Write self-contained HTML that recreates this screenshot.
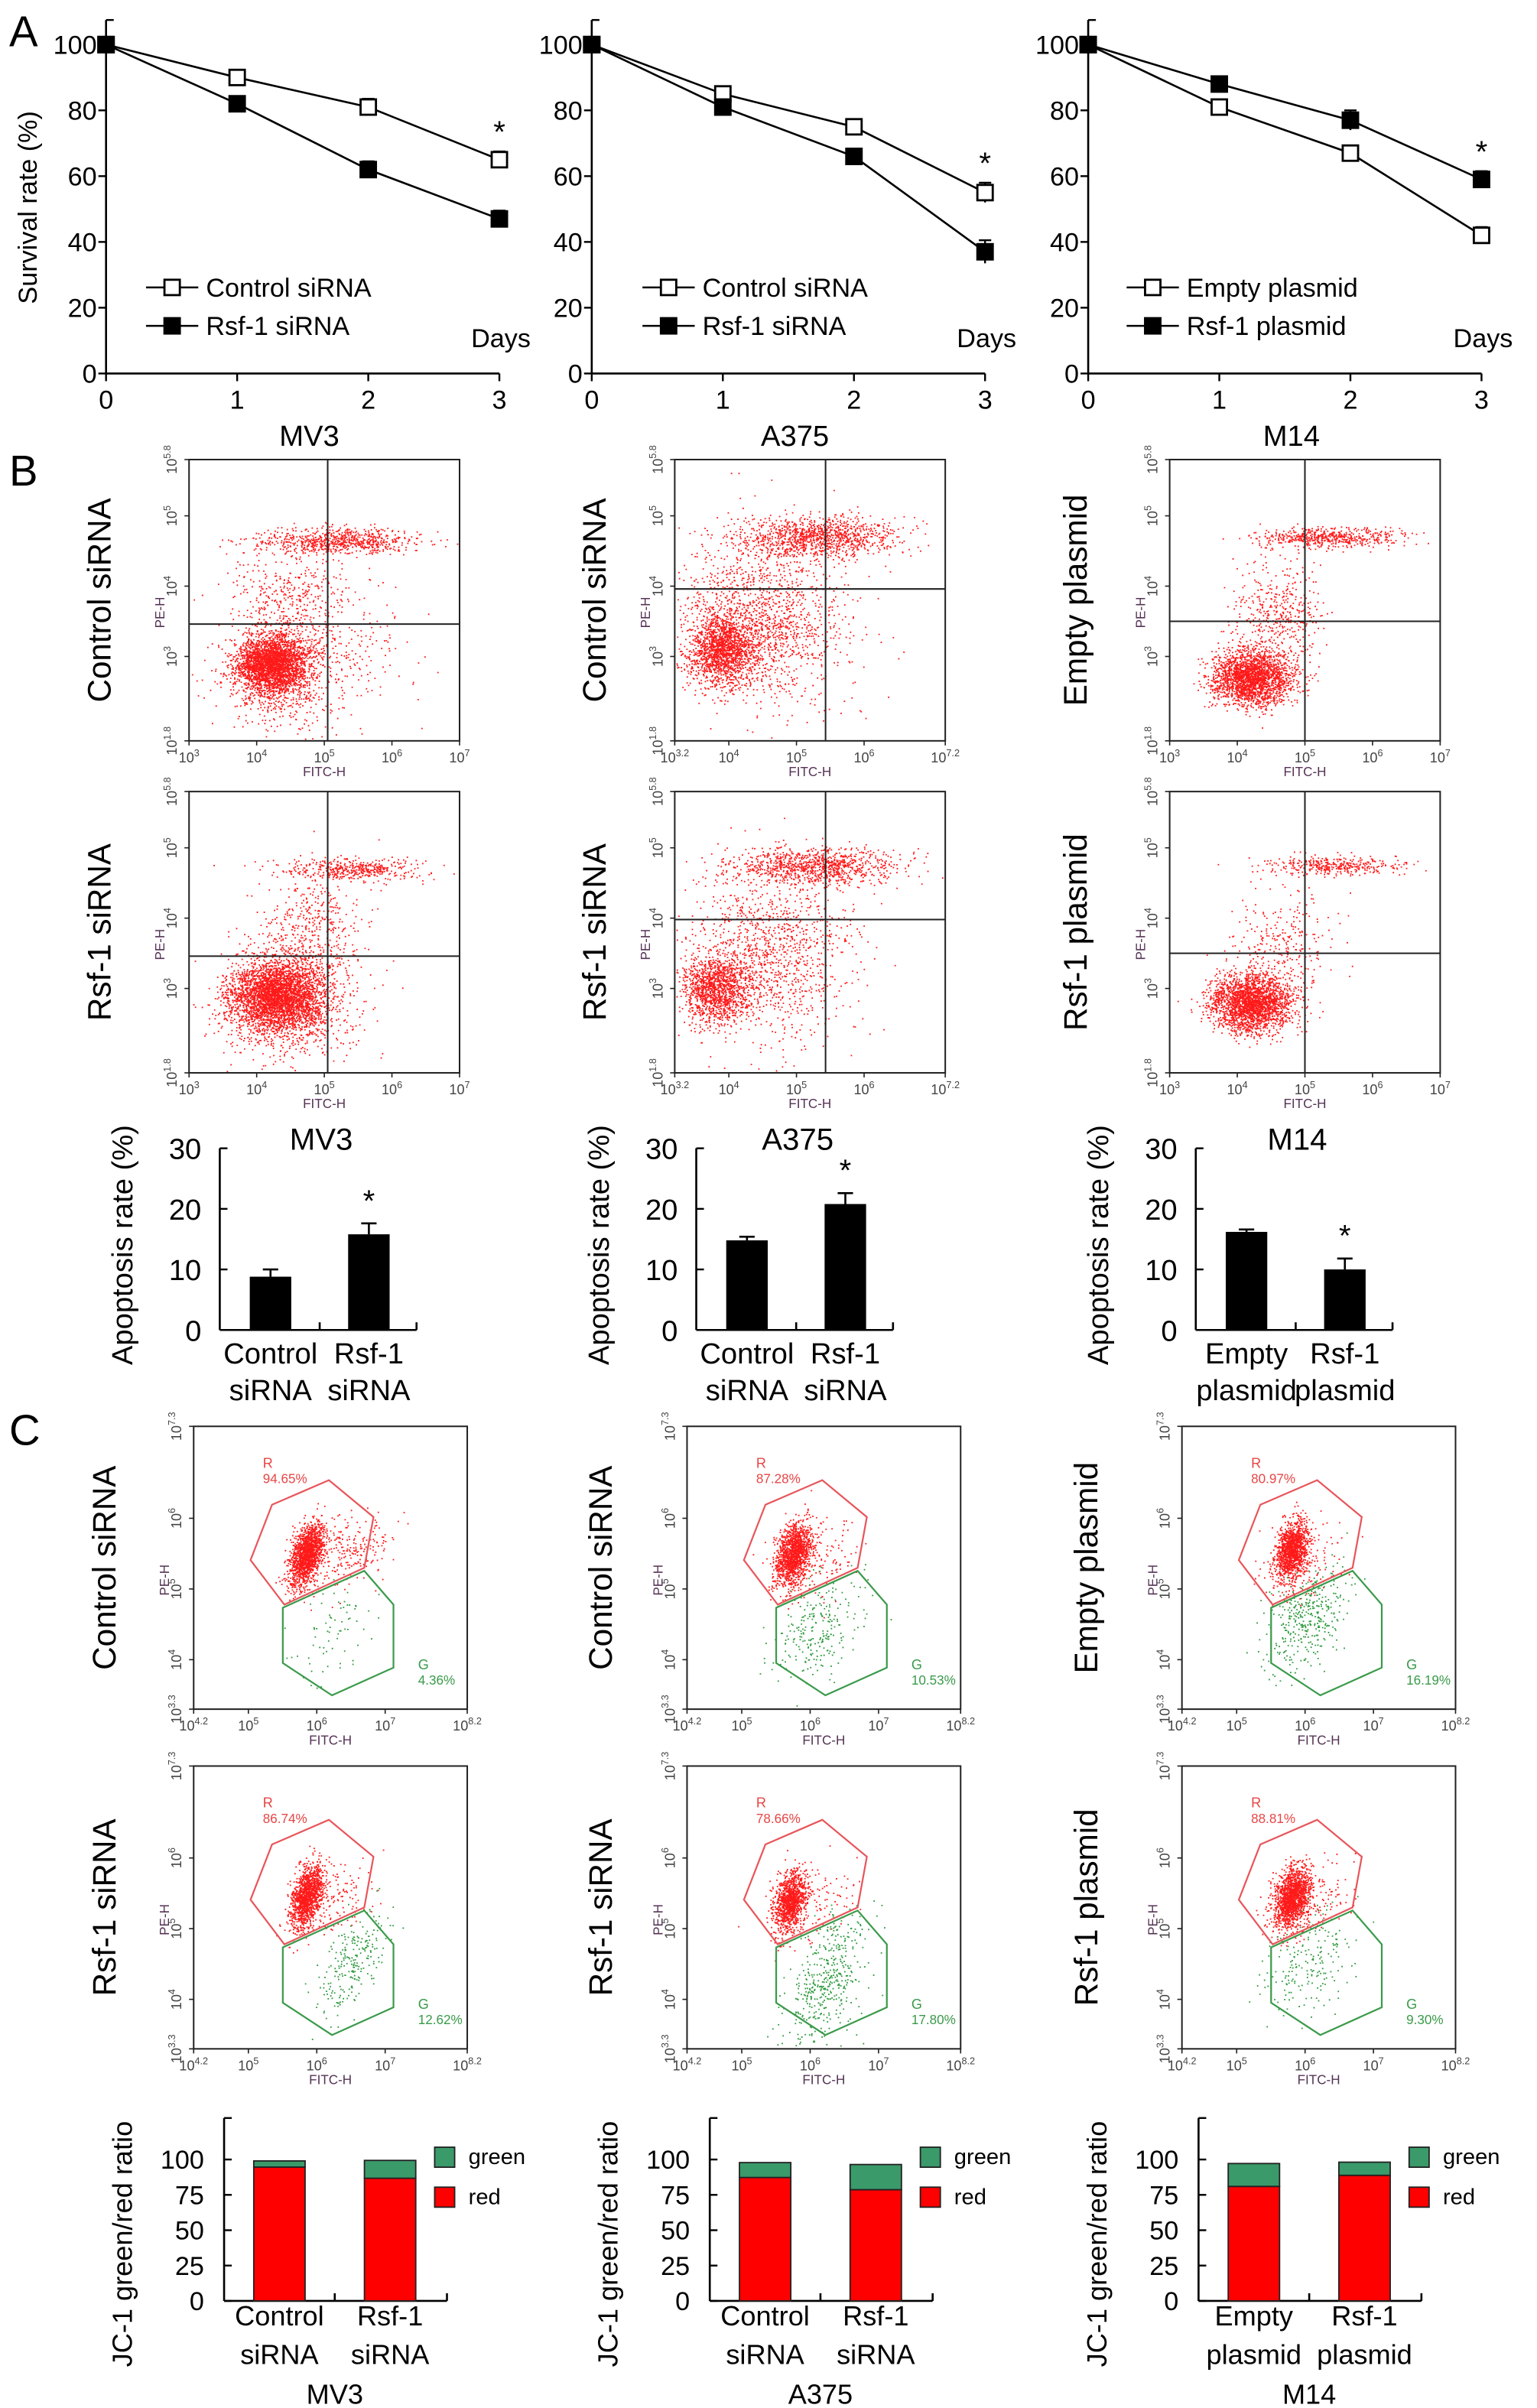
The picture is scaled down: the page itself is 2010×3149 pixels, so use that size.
<!DOCTYPE html>
<html><head><meta charset="utf-8"><title>Rsf-1 figure</title>
<style>
html,body{margin:0;padding:0;background:#fff;}
svg{display:block;font-family:"Liberation Sans",Arial,sans-serif;}
</style></head>
<body>
<svg id="fig" xmlns="http://www.w3.org/2000/svg" width="2010" height="3149" viewBox="0 0 1000 1566.67" preserveAspectRatio="none">
<rect x="0" y="0" width="1000" height="1567" fill="#fff"/>
<text x="6" y="30" font-size="28">A</text>
<text x="6" y="316" font-size="28">B</text>
<text x="6" y="940" font-size="28">C</text>
</svg>
<script>
// ---------------- DATA ----------------
const days=[0,1,2,3];
const survTicks=[0,20,40,60,80,100];
const mv3Ctrl=[100,90,81,65];   const mv3CtrlErr=[0,1.5,2.5,2.5];
const mv3Rsf=[100,82,62,47];    const mv3RsfErr=[0,1,2.5,2.5];
const a375Ctrl=[100,85,75,55];  const a375CtrlErr=[0,1,1.5,3];
const a375Rsf=[100,81,66,37];   const a375RsfErr=[0,1.5,2,3.5];
const m14Empty=[100,81,67,42];  const m14EmptyErr=[0,1,1,2.5];
const m14Rsf=[100,88,77,59];    const m14RsfErr=[0,1,3,2.5];

const apopTicks=[0,10,20,30];
const mv3Apop=[8.8,15.8];   const mv3ApopErr=[1.2,1.8];
const a375Apop=[14.8,20.8]; const a375ApopErr=[0.6,1.8];
const m14Apop=[16.2,10.0];  const m14ApopErr=[0.4,1.8];

const jcTicks=[0,25,50,75,100];
const mv3Red=[94.65,86.74];  const mv3Green=[4.36,12.62];
const a375Red=[87.28,78.66]; const a375Green=[10.53,17.80];
const m14Red=[80.97,88.81];  const m14Green=[16.19,9.30];

// flow cytometry clusters (log10 units): [cx, cy, sx, sy, n, corr]
const bMv3Ctrl=[[4.2,2.9,0.25,0.2,2600,0],[4.4,2.8,0.45,0.4,900,0],[5.2,4.65,0.6,0.09,750,0],[4.5,3.9,0.4,0.35,350,0],[5.5,3.2,0.5,0.5,150,0]];
const bMv3Rsf=[[4.3,2.9,0.33,0.25,3200,0],[4.5,2.8,0.5,0.4,900,0],[5.4,4.7,0.5,0.08,450,0],[4.8,3.8,0.4,0.4,450,0]];
const bA375Ctrl=[[3.9,3.1,0.25,0.25,1600,0],[4.5,3.5,0.6,0.6,1500,0],[5.3,4.7,0.6,0.15,1100,0]];
const bA375Rsf=[[3.8,3.0,0.25,0.25,1300,0],[4.6,3.5,0.6,0.6,1200,0],[5.3,4.75,0.6,0.13,1000,0]];
const bM14Empty=[[4.2,2.7,0.3,0.2,2200,0],[5.4,4.7,0.5,0.07,550,0],[4.6,3.6,0.35,0.4,450,0]];
const bM14Rsf=[[4.2,2.8,0.3,0.2,2400,0],[5.4,4.75,0.5,0.07,380,0],[4.7,3.6,0.35,0.4,280,0]];
const cMv3Ctrl=[[5.85,5.5,0.12,0.2,1500,0.8],[6.4,5.5,0.35,0.25,250,0.3]];
const cMv3Rsf=[[5.85,5.45,0.12,0.2,1300,0.8],[6.2,5.4,0.3,0.25,150,0.3]];
const cA375Ctrl=[[5.75,5.5,0.13,0.2,1400,0.6],[6.1,5.4,0.3,0.25,150,0.3]];
const cA375Rsf=[[5.7,5.4,0.12,0.2,1100,0.6],[6.0,5.3,0.3,0.25,120,0.3]];
const cM14Empty=[[5.8,5.55,0.12,0.2,1300,0.5],[6.0,5.4,0.3,0.25,120,0.3]];
const cM14Rsf=[[5.8,5.45,0.13,0.2,1500,0.5],[6.1,5.4,0.3,0.25,150,0.3]];
const gMv3Ctrl=[[6.3,4.45,0.3,0.3,70,0.6]];
const gMv3Rsf=[[6.5,4.5,0.25,0.3,240,0.9]];
const gA375Ctrl=[[6.1,4.4,0.35,0.35,250,0.5]];
const gA375Rsf=[[6.25,4.3,0.3,0.4,450,0.7]];
const gM14Empty=[[6.0,4.6,0.3,0.35,380,0.5]];
const gM14Rsf=[[6.0,4.5,0.35,0.35,200,0.5]];

// ---------------- HELPERS ----------------
const NS='http://www.w3.org/2000/svg';
const svg=document.getElementById('fig');
function mk(tag,attrs,parent){const e=document.createElementNS(NS,tag);for(const k in attrs)e.setAttribute(k,attrs[k]);(parent||svg).appendChild(e);return e;}
function txt(s,attrs,parent){const e=mk('text',attrs,parent);e.textContent=s;return e;}
function nm(e,n){
  
  
}
function powText(exp,x,y,size,color,rot,parent){
  const t=mk('text',{x:x,y:y,'font-size':size,fill:color,'text-anchor':'middle'},parent);
  if(rot)t.setAttribute('transform','rotate(-90 '+x+' '+y+')');
  t.appendChild(document.createTextNode('10'));
  const s=mk('tspan',{dy:-size*0.45,'font-size':size*0.7},t);s.textContent=String(exp);
  nm(t,'tick-label');return t;
}
function rng(seed){return function(){seed|=0;seed=seed+0x6D2B79F5|0;let t=Math.imul(seed^seed>>>15,1|seed);t=t+Math.imul(t^t>>>7,61|t)^t;return((t^t>>>14)>>>0)/4294967296;};}
function gauss(r){let u=r()||1e-9,v=r();return Math.sqrt(-2*Math.log(u))*Math.cos(2*Math.PI*v);}

// ---------------- PANEL A ----------------
function lineChart(ox,lx,ctrl,ctrlErr,rsf,rsfErr,labels,cell,showTitle){
  const g=mk('g',{});nm(g,'survival-chart-'+cell.toLowerCase());
  const X=d=>69+ox+d*85.3, Y=v=>243-v*2.14;
  const ax=mk('line',{x1:X(0),y1:13,x2:X(0),y2:243,stroke:'#000','stroke-width':1.3},g);nm(ax,'y-axis');
  const bx=mk('line',{x1:X(0),y1:243,x2:X(3),y2:243,stroke:'#000','stroke-width':1.3},g);nm(bx,'x-axis');
  survTicks.forEach(v=>{mk('line',{x1:X(0)-5,y1:Y(v),x2:X(0),y2:Y(v),stroke:'#000','stroke-width':1.2},g);
    const t=txt(String(v),{x:X(0)-6,y:Y(v)+6,'font-size':17,'text-anchor':'end'},g);nm(t,'y-tick-label');});
  mk('line',{x1:X(0),y1:13,x2:X(0)+5,y2:13,stroke:'#000','stroke-width':1.2},g);
  days.forEach(d=>{mk('line',{x1:X(d),y1:243,x2:X(d),y2:248,stroke:'#000','stroke-width':1.2},g);
    const t=txt(String(d),{x:X(d),y:266,'font-size':17,'text-anchor':'middle'},g);nm(t,'x-tick-label');});
  if(showTitle){const yt=txt('Survival rate (%)',{x:0,y:0,'font-size':17,'text-anchor':'middle',transform:'translate('+(ox+24)+' 135) rotate(-90)'},g);nm(yt,'y-axis-title');}
  const dl=txt('Days',{x:X(3)+1,y:226,'font-size':17,'text-anchor':'middle'},g);nm(dl,'x-axis-title');
  const cl=txt(cell,{x:X(1.55),y:290,'font-size':19,'text-anchor':'middle'},g);nm(cl,'cell-line-label');
  [[ctrl,ctrlErr,'#fff','control'],[rsf,rsfErr,'#000','rsf1']].forEach(s=>{
    const p=mk('polyline',{points:days.map(d=>X(d)+','+Y(s[0][d])).join(' '),fill:'none',stroke:'#000','stroke-width':1.3},g);
    
    
    days.forEach(d=>{const e=s[1][d];if(e>0){mk('line',{x1:X(d),y1:Y(s[0][d]+e),x2:X(d),y2:Y(s[0][d]-e),stroke:'#000','stroke-width':1.2},g);
      mk('line',{x1:X(d)-4,y1:Y(s[0][d]+e),x2:X(d)+4,y2:Y(s[0][d]+e),stroke:'#000','stroke-width':1.2},g);}
      const m=mk('rect',{x:X(d)-5,y:Y(s[0][d])-5,width:10,height:10,fill:s[2],stroke:'#000','stroke-width':1.4},g);
      
      });
  });
  const top=Math.max(ctrl[3]+ctrlErr[3],rsf[3]+rsfErr[3]);
  const st=txt('*',{x:X(3),y:Y(top)-6,'font-size':20,'text-anchor':'middle'},g);nm(st,'significance-star');
  [[labels[0],'#fff',187],[labels[1],'#000',212]].forEach((L,i)=>{
    const lg=mk('g',{},g);nm(lg,'legend-entry');
    mk('line',{x1:lx,y1:L[2],x2:lx+34,y2:L[2],stroke:'#000','stroke-width':1.3},lg);
    mk('rect',{x:lx+12,y:L[2]-5,width:10,height:10,fill:L[1],stroke:'#000','stroke-width':1.4},lg);
    txt(L[0],{x:lx+39,y:L[2]+6,'font-size':17},lg);});
}
lineChart(0,95,mv3Ctrl,mv3CtrlErr,mv3Rsf,mv3RsfErr,['Control siRNA','Rsf-1 siRNA'],'MV3',true);
lineChart(316,418,a375Ctrl,a375CtrlErr,a375Rsf,a375RsfErr,['Control siRNA','Rsf-1 siRNA'],'A375',false);
lineChart(639,733,m14Empty,m14EmptyErr,m14Rsf,m14RsfErr,['Empty plasmid','Rsf-1 plasmid'],'M14',false);

// ---------------- FLOW PLOTS ----------------
function flowPlot(o){
  const g=mk('g',{});nm(g,o.name);
  const {x0,x1,y0,y1,xmin,xmax,ymin,ymax}=o;
  const X=v=>x0+(v-xmin)/(xmax-xmin)*(x1-x0), Y=v=>y1-(v-ymin)/(ymax-ymin)*(y1-y0);
  const r=rng(o.seed);
  o.sets.forEach(set=>{
    let d='';
    set.clusters.forEach(c=>{for(let i=0;i<c[4];i++){const dx=c[2]*gauss(r);const lx=c[0]+dx,ly=c[1]+c[3]*gauss(r)+c[5]*dx;
      const px=X(lx),py=Y(ly);if(px>x0+1&&px<x1-1&&py>y0+1&&py<y1-1)d+='M'+px.toFixed(1)+' '+py.toFixed(1)+'h0.9v0.9h-0.9z';}});
    const p=mk('path',{d:d,fill:set.color},g);
    
    
  });
  const fr=mk('rect',{x:x0,y:y0,width:x1-x0,height:y1-y0,fill:'none',stroke:'#222','stroke-width':1},g);nm(fr,'plot-frame');
  if(o.qx!==undefined){
    const a=mk('line',{x1:X(o.qx),y1:y0,x2:X(o.qx),y2:y1,stroke:'#222','stroke-width':1},g);nm(a,'quadrant-line-vertical');
    const b=mk('line',{x1:x0,y1:Y(o.qy),x2:x1,y2:Y(o.qy),stroke:'#222','stroke-width':1},g);nm(b,'quadrant-line-horizontal');
  }
  o.xt.forEach(e=>{mk('line',{x1:X(e),y1:y1,x2:X(e),y2:y1+3,stroke:'#222','stroke-width':0.8},g);powText(e,X(e),y1+14,9,'#444',false,g);});
  o.yt.forEach(e=>{mk('line',{x1:x0-3,y1:Y(e),x2:x0,y2:Y(e),stroke:'#222','stroke-width':0.8},g);powText(e,x0-8,Y(e),9,'#444',true,g);});
  const xl=txt('FITC-H',{x:(x0+x1)/2,y:y1+23,'font-size':8.5,fill:'#553355','text-anchor':'middle'},g);nm(xl,'x-axis-title');
  const yl=txt('PE-H',{x:0,y:0,'font-size':8.5,fill:'#553355','text-anchor':'middle',transform:'translate('+(x0-16)+' '+((y0+y1)/2+8)+') rotate(-90)'},g);nm(yl,'y-axis-title');
  const rl=txt(o.row,{x:0,y:0,'font-size':21,'text-anchor':'middle',transform:'translate('+(o.rx)+' '+((y0+y1)/2)+') rotate(-90)'},g);nm(rl,'row-label');
  if(o.gates){
    const R=[[51,51],[88,35],[117,59],[111,92],[59,116],[37,87]], G=[[58,118],[111,94],[130,116],[130,157],[90,175],[58,154]];
    const pr=mk('polygon',{points:R.map(p=>(x0+p[0])+','+(y0+p[1])).join(' '),fill:'none',stroke:'#e8555a','stroke-width':1.1},g);nm(pr,'gate-r');
    const pg=mk('polygon',{points:G.map(p=>(x0+p[0])+','+(y0+p[1])).join(' '),fill:'none',stroke:'#3a9a4a','stroke-width':1.1},g);nm(pg,'gate-g');
    const t1=txt('R',{x:x0+45,y:y0+27,'font-size':9,fill:'#e84545'},g);nm(t1,'gate-r-label');
    const t2=txt(o.gates[0].toFixed(2)+'%',{x:x0+45,y:y0+37,'font-size':8.5,fill:'#e84545'},g);nm(t2,'gate-r-percent');
    const t3=txt('G',{x:x0+146,y:y0+158,'font-size':9,fill:'#3a9a4a'},g);nm(t3,'gate-g-label');
    const t4=txt(o.gates[1].toFixed(2)+'%',{x:x0+146,y:y0+168,'font-size':8.5,fill:'#3a9a4a'},g);nm(t4,'gate-g-percent');
  }
}
const bCols=[0,316,638], bRx=[72,394,707];
const bRows=[['Control siRNA','Rsf-1 siRNA'],['Control siRNA','Rsf-1 siRNA'],['Empty plasmid','Rsf-1 plasmid']];
const bData=[[bMv3Ctrl,bMv3Rsf],[bA375Ctrl,bA375Rsf],[bM14Empty,bM14Rsf]];
const bQ=[[5.05,3.46,3.05,3.46],[5.43,3.96,5.43,3.98],[5.0,3.5,5.0,3.5]];
const bXmin=[3,3.2,3], bXmax=[7,7.2,7];
const cells=['mv3','a375','m14'];
for(let c=0;c<3;c++)for(let rI=0;rI<2;rI++){
  const xmin=bXmin[c],xmax=bXmax[c];
  const xt=[xmin,4,5,6,xmax];
  flowPlot({name:'apoptosis-flow-'+cells[c]+'-'+(rI?'treated':'control'),x0:123+bCols[c],x1:299+bCols[c],y0:299+rI*216,y1:482+rI*216,
    xmin:xmin,xmax:xmax,ymin:1.8,ymax:5.8,qx:bQ[c][0],qy:bQ[c][rI?3:1]+0,seed:11+c*7+rI,
    sets:[{clusters:bData[c][rI],color:'#ff1a1a',label:'event-dots'}],xt:xt,yt:[1.8,3,4,5,5.8],row:bRows[c][rI],rx:bRx[c]});
}
const cCols=[0,321,643], cRx=[75,398,714];
const cRed=[[cMv3Ctrl,cMv3Rsf],[cA375Ctrl,cA375Rsf],[cM14Empty,cM14Rsf]];
const cGreen=[[gMv3Ctrl,gMv3Rsf],[gA375Ctrl,gA375Rsf],[gM14Empty,gM14Rsf]];
const cRedPct=[mv3Red,a375Red,m14Red], cGreenPct=[mv3Green,a375Green,m14Green];
for(let c=0;c<3;c++)for(let rI=0;rI<2;rI++){
  flowPlot({name:'jc1-flow-'+cells[c]+'-'+(rI?'treated':'control'),x0:126+cCols[c],x1:304+cCols[c],y0:928+rI*221,y1:1112+rI*221,
    xmin:4.2,xmax:8.2,ymin:3.3,ymax:7.3,seed:101+c*5+rI,
    sets:[{clusters:cRed[c][rI],color:'#ff1a1a',label:'red-events'},{clusters:cGreen[c][rI],color:'#2f9a3f',label:'green-events'}],
    xt:[4.2,5,6,7,8.2],yt:[3.3,4,5,6,7.3],row:bRows[c][rI],rx:cRx[c],gates:[cRedPct[c][rI],cGreenPct[c][rI]]});
}

// ---------------- APOPTOSIS BARS ----------------
function barChart(ox,vals,errs,cats,cell){
  const g=mk('g',{});nm(g,'apoptosis-bar-chart-'+cell.toLowerCase());
  const x0=143+ox, Y=v=>865.3-v*3.94, cx=[x0+33,x0+97];
  mk('line',{x1:x0,y1:Y(30),x2:x0,y2:Y(0),stroke:'#000','stroke-width':1.3},g);
  mk('line',{x1:x0,y1:Y(0),x2:x0+128,y2:Y(0),stroke:'#000','stroke-width':1.3},g);
  [x0+65,x0+128].forEach(x=>mk('line',{x1:x,y1:Y(0),x2:x,y2:Y(0)-5,stroke:'#000','stroke-width':1.3},g));
  apopTicks.forEach(v=>{mk('line',{x1:x0,y1:Y(v),x2:x0+5,y2:Y(v),stroke:'#000','stroke-width':1.2},g);
    const t=txt(String(v),{x:x0-12,y:Y(v)+7,'font-size':19,'text-anchor':'end'},g);nm(t,'y-tick-label');});
  vals.forEach((v,i)=>{
    const b=mk('rect',{x:cx[i]-13.5,y:Y(v),width:27,height:Y(0)-Y(v),fill:'#000'},g);
    
    
    mk('line',{x1:cx[i],y1:Y(v),x2:cx[i],y2:Y(v+errs[i]),stroke:'#000','stroke-width':1.3},g);
    mk('line',{x1:cx[i]-5,y1:Y(v+errs[i]),x2:cx[i]+5,y2:Y(v+errs[i]),stroke:'#000','stroke-width':1.3},g);
    const l1=txt(cats[i][0],{x:cx[i],y:887,'font-size':19,'text-anchor':'middle'},g);nm(l1,'x-category-label');
    const l2=txt(cats[i][1],{x:cx[i],y:911,'font-size':19,'text-anchor':'middle'},g);nm(l2,'x-category-label');
  });
  const st=txt('*',{x:cx[1],y:Y(vals[1]+errs[1])-8,'font-size':20,'text-anchor':'middle'},g);nm(st,'significance-star');
  const yt=txt('Apoptosis rate (%)',{x:0,y:0,'font-size':19,'text-anchor':'middle',transform:'translate('+(x0-57)+' 810) rotate(-90)'},g);nm(yt,'y-axis-title');
  const cl=txt(cell,{x:x0+66,y:748,'font-size':20,'text-anchor':'middle'},g);nm(cl,'cell-line-label');
}
barChart(0,mv3Apop,mv3ApopErr,[['Control','siRNA'],['Rsf-1','siRNA']],'MV3');
barChart(310,a375Apop,a375ApopErr,[['Control','siRNA'],['Rsf-1','siRNA']],'A375');
barChart(635,m14Apop,m14ApopErr,[['Empty','plasmid'],['Rsf-1','plasmid']],'M14');

// ---------------- JC-1 STACKED BARS ----------------
function stackChart(ox,red,green,cats,cell){
  const g=mk('g',{});nm(g,'jc1-stacked-chart-'+cell.toLowerCase());
  const x0=145.8+ox, Y=v=>1497-v*0.92, cx=[x0+36,x0+108];
  mk('line',{x1:x0,y1:1378,x2:x0,y2:Y(0),stroke:'#000','stroke-width':1.3},g);
  mk('line',{x1:x0,y1:1378,x2:x0+5,y2:1378,stroke:'#000','stroke-width':1.2},g);
  mk('line',{x1:x0,y1:Y(0),x2:x0+145,y2:Y(0),stroke:'#000','stroke-width':1.3},g);
  [x0+72,x0+145].forEach(x=>mk('line',{x1:x,y1:Y(0),x2:x,y2:Y(0)-5,stroke:'#000','stroke-width':1.3},g));
  jcTicks.forEach(v=>{mk('line',{x1:x0,y1:Y(v),x2:x0+5,y2:Y(v),stroke:'#000','stroke-width':1.2},g);
    const t=txt(String(v),{x:x0-13,y:Y(v)+6,'font-size':17,'text-anchor':'end'},g);nm(t,'y-tick-label');});
  red.forEach((v,i)=>{
    const b=mk('rect',{x:cx[i]-16.7,y:Y(v),width:33.4,height:Y(0)-Y(v),fill:'#ff0000',stroke:'#222','stroke-width':0.9},g);
    
    
    const gb=mk('rect',{x:cx[i]-16.7,y:Y(v+green[i]),width:33.4,height:Y(v)-Y(v+green[i]),fill:'#3a9a6a',stroke:'#222','stroke-width':0.9},g);
    
    
    const l1=txt(cats[i][0],{x:cx[i],y:1513,'font-size':18,'text-anchor':'middle'},g);nm(l1,'x-category-label');
    const l2=txt(cats[i][1],{x:cx[i],y:1538,'font-size':18,'text-anchor':'middle'},g);nm(l2,'x-category-label');
  });
  [['green','#3a9a6a',1397],['red','#ff0000',1423]].forEach(L=>{
    const lg=mk('g',{},g);nm(lg,'legend-entry-'+L[0]);
    mk('rect',{x:x0+137,y:L[2],width:13,height:13,fill:L[1],stroke:'#222','stroke-width':0.9},lg);
    txt(L[0],{x:x0+159,y:L[2]+11,'font-size':14.5},lg);});
  const yt=txt('JC-1 green/red ratio',{x:0,y:0,'font-size':18,'text-anchor':'middle',transform:'translate('+(x0-60)+' 1460) rotate(-90)'},g);nm(yt,'y-axis-title');
  const cl=txt(cell,{x:x0+72,y:1564,'font-size':18,'text-anchor':'middle'},g);nm(cl,'cell-line-label');
}
stackChart(0,mv3Red,mv3Green,[['Control','siRNA'],['Rsf-1','siRNA']],'MV3');
stackChart(316,a375Red,a375Green,[['Control','siRNA'],['Rsf-1','siRNA']],'A375');
stackChart(634,m14Red,m14Green,[['Empty','plasmid'],['Rsf-1','plasmid']],'M14');
</script>
</body></html>
